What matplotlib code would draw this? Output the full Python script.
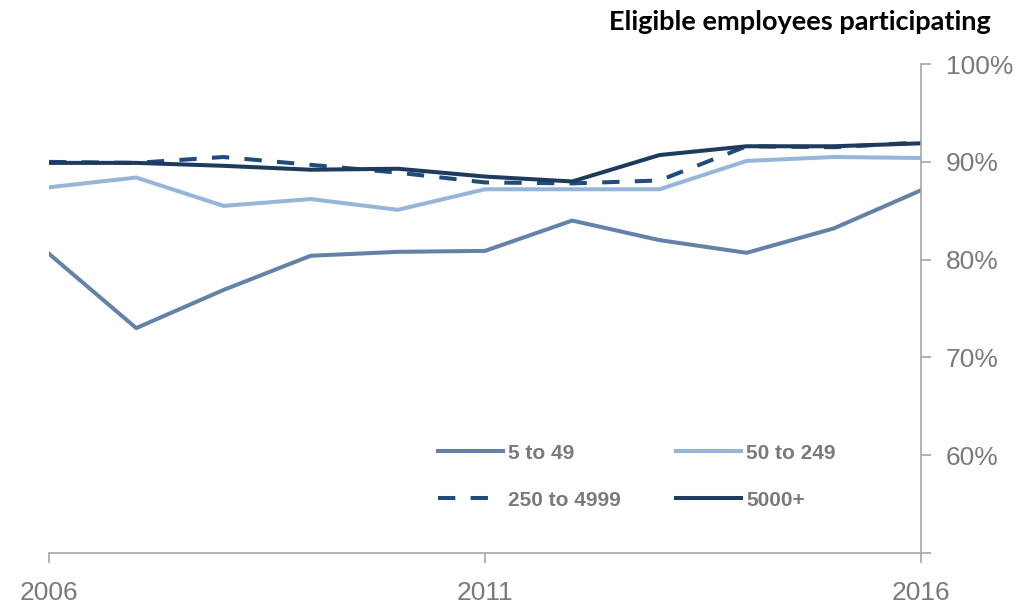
import matplotlib.pyplot as plt
import matplotlib.ticker as mticker

years = [2006, 2007, 2008, 2009, 2010, 2011, 2012, 2013, 2014, 2015, 2016]

# participation (%) by employer size
size_5_49 = [80.6, 73.0, 76.9, 80.4, 80.8, 80.9, 84.0, 82.0, 80.7, 83.2, 87.1]
size_50_249 = [87.4, 88.4, 85.5, 86.2, 85.1, 87.2, 87.2, 87.2, 90.1, 90.5, 90.4]
size_250_4999 = [90.0, 89.9, 90.5, 89.7, 88.9, 87.9, 87.8, 88.1, 91.6, 91.5, 92.0]
size_5000 = [89.9, 89.9, 89.6, 89.2, 89.3, 88.5, 88.0, 90.7, 91.6, 91.6, 91.9]

xticks = [2006, 2011, 2016]
yticks = [50, 60, 70, 80, 90, 100]

grey = '#7a7a7a'
axis_col = '#a6a6a6'

fig = plt.figure(figsize=(10.32, 6.05), dpi=100)
ax = fig.add_axes([0.0475, 0.086, 0.845, 0.808])

lw = 2.9
l1, = ax.plot(years, size_5_49, color='#6482a8', lw=lw, label='5 to 49')
l2, = ax.plot(years, size_50_249, color='#97b5d9', lw=lw, label='50 to 249')
l3, = ax.plot(years, size_250_4999, color='#1f4b7d', lw=lw, dashes=(4.3, 3.8), label='250 to 4999')
l4, = ax.plot(years, size_5000, color='#1e3a5c', lw=lw, label='5000+')

ax.set_xlim(2006, 2016)
ax.set_ylim(50, 100)

for s in ['left', 'top']:
    ax.spines[s].set_visible(False)
for s in ['right', 'bottom']:
    ax.spines[s].set_color(axis_col)
    ax.spines[s].set_linewidth(1.2)

ax.yaxis.tick_right()
ax.set_yticks(yticks)
ax.yaxis.set_major_formatter(mticker.FuncFormatter(lambda v, p: '' if v == 50 else '%d%%' % v))
ax.set_xticks(xticks)
ax.set_xticklabels([str(x) for x in xticks])

ax.tick_params(axis='y', direction='out', length=7, width=1.2, color=axis_col,
               labelcolor=grey, labelsize=19, pad=11)
ax.tick_params(axis='x', direction='out', length=7, width=1.2, color=axis_col,
               labelcolor=grey, labelsize=19, pad=13)
for lab in ax.get_xticklabels() + ax.get_yticklabels():
    lab.set_fontfamily('Liberation Sans')

# order so the rows read 5-49 / 50-249, then 250-4999 / 5000+
leg = ax.legend([l1, l3, l2, l4], ['5 to 49', '250 to 4999', '50 to 249', '5000+'],
                ncol=2, frameon=False, loc='upper left', bbox_to_anchor=(0.425, 0.262),
                handlelength=3.1, handletextpad=0.25, columnspacing=2.65, labelspacing=1.35,
                prop={'family': 'Liberation Sans', 'weight': 'bold', 'size': 15})
for t in leg.get_texts():
    t.set_color(grey)

fig.text(0.96, 0.963, 'Eligible employees participating', ha='right', va='center',
         fontsize=19.5, fontweight='bold', family='Lato', color='black')

fig.savefig('out.png', dpi=100)
